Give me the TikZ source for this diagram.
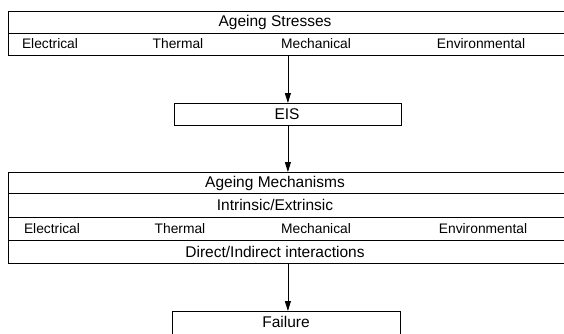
\documentclass[tikz,border=0pt]{standalone}
\usepackage{fontspec}
\setmainfont{Liberation Sans}
\usetikzlibrary{arrows.meta}
\begin{document}
\begin{tikzpicture}[x=1pt,y=-1pt,
  box/.style={draw=black,line width=0.8pt,rectangle,inner sep=0pt,anchor=north west},
  head/.style={font=\fontsize{15.5}{17}\selectfont,inner sep=0pt},
  lab/.style={font=\fontsize{13.8}{15}\selectfont,inner sep=0pt},
  arr/.style={draw=black,line width=0.8pt,-{Triangle[length=10pt,width=6pt]}}]
\useasboundingbox (0,0) rectangle (564,333);
\clip (0,0) rectangle (564,333);
% top block
\node[box,minimum width=580pt,minimum height=22pt] (sA) at (8,11) {};
\node[box,minimum width=580pt,minimum height=22pt] (sB) at (8,33) {};
\node[head] (tA) at (275,22) {Ageing Stresses};
\node[lab] (t1) at (50,44) {Electrical};
\node[lab] (t2) at (178,44) {Thermal};
\node[lab] (t3) at (316,44) {Mechanical};
\node[lab] (t4) at (481,44) {Environmental};
% EIS
\node[box,minimum width=227pt,minimum height=22pt] (eis) at (174,103) {};
\node[head] (teis) at (287,114) {EIS};
% lower block
\node[box,minimum width=580pt,minimum height=21pt] (mA) at (8,172) {};
\node[box,minimum width=580pt,minimum height=24pt] (mB) at (8,193) {};
\node[box,minimum width=580pt,minimum height=23pt] (mC) at (8,217) {};
\node[box,minimum width=580pt,minimum height=23pt] (mD) at (8,240) {};
\node[head] (tmA) at (275,183) {Ageing Mechanisms};
\node[head] (tmB) at (275,205) {Intrinsic/Extrinsic};
\node[lab] (m1) at (52,229) {Electrical};
\node[lab] (m2) at (180,229) {Thermal};
\node[lab] (m3) at (316,229) {Mechanical};
\node[lab] (m4) at (483,229) {Environmental};
\node[head] (tmD) at (275,252) {Direct/Indirect interactions};
% failure
\node[box,minimum width=228pt,minimum height=30pt] (fail) at (172,311) {};
\node[head] (tfail) at (286,322) {Failure};
% arrows
\draw[arr] (eis.center |- sB.south) -- (eis.north);
\draw[arr] (eis.south) -- (eis.center |- mA.north);
\draw[arr] (eis.center |- mD.south) -- (eis.center |- fail.north);
\end{tikzpicture}
\end{document}
